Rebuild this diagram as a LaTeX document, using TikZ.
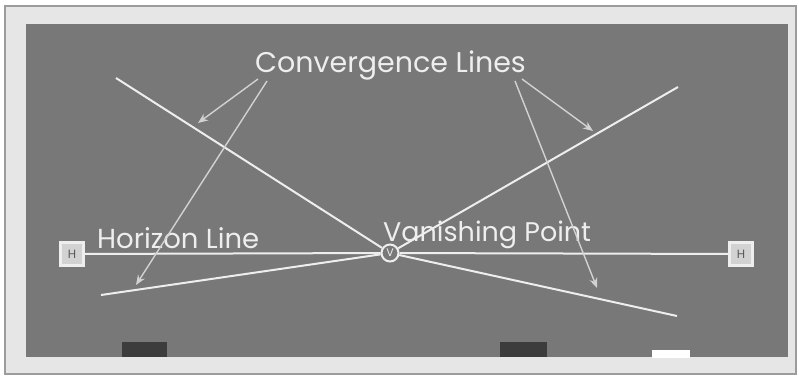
\documentclass[tikz,border=0pt]{standalone}
\usepackage{fontspec}
\setmainfont{Poppins}
\usetikzlibrary{arrows.meta, shapes.geometric}

\definecolor{boardgray}{HTML}{787878}
\definecolor{framegray}{HTML}{E6E6E6}
\definecolor{rimgray}{HTML}{9C9C9C}
\definecolor{chalkwhite}{HTML}{EEEEEE}
\definecolor{pointergray}{HTML}{D2D2D2}
\definecolor{erasergray}{HTML}{3C3C3C}

\begin{document}
\begin{tikzpicture}[x=1pt, y=-1pt]
\tikzset{
  chalk/.style={draw=chalkwhite, line width=2pt},
  pointer/.style={draw=pointergray, line width=1.4pt, -{Stealth[length=10pt, width=8pt]}},
  boardtext/.style={text=chalkwhite, inner sep=0pt, anchor=base west, font=\fontsize{#1}{#1}\selectfont},
  boardtext/.default=27.5,
  hbox/.style={draw=chalkwhite, fill=pointergray, line width=2.5pt, minimum size=23pt,
    inner sep=0pt, text=black!65, font=\fontsize{12}{12}\selectfont},
  vpoint/.style={circle, draw=chalkwhite, fill=boardgray, line width=2pt, minimum size=17pt,
    inner sep=0pt, text=chalkwhite, font=\fontsize{11}{11}\selectfont}
}

\useasboundingbox (0,0) rectangle (799,378);

% board and frame
\filldraw[fill=framegray, draw=rimgray, line width=1.5pt] (5,6) rectangle (796,374);
\fill[boardgray] (26,24) rectangle (788,357);
\fill[erasergray] (122,342) rectangle (167,357);
\fill[erasergray] (500,342) rectangle (547,357);
\fill[white] (652,350) rectangle (690,358);

\coordinate (UL) at (116,78);
\coordinate (UR) at (678,87);
\coordinate (LL) at (101,295);
\coordinate (LR) at (677,316);

\node[vpoint] (V) at (390,253) {V};
\node[hbox] (H1) at (72,254) {H};
\node[hbox] (H2) at (741,254) {H};

% horizon and convergence lines
\draw[chalk] (H1) -- (V);
\draw[chalk] (V) -- (H2);
\draw[chalk] (UL) -- (V);
\draw[chalk] (V) -- (UR);
\draw[chalk] (LL) -- (V);
\draw[chalk] (V) -- (LR);

\node[boardtext=28.5] (conv) at (255,72) {Convergence Lines};
\node[boardtext] (horiz) at (97,248) {Horizon Line};
\node[boardtext=27] (vanish) at (383,241) {Vanishing Point};

\coordinate (A1) at (258,79);
\coordinate (A2) at (267,81);
\coordinate (A3) at (522,79);
\coordinate (A4) at (515,81);
\coordinate (T1) at (198,123);
\coordinate (T2) at (136,285);
\coordinate (T3) at (593,131);
\coordinate (T4) at (597,288);

\draw[pointer] (A1) -- (T1);
\draw[pointer] (A2) -- (T2);
\draw[pointer] (A3) -- (T3);
\draw[pointer] (A4) -- (T4);
\end{tikzpicture}
\end{document}
